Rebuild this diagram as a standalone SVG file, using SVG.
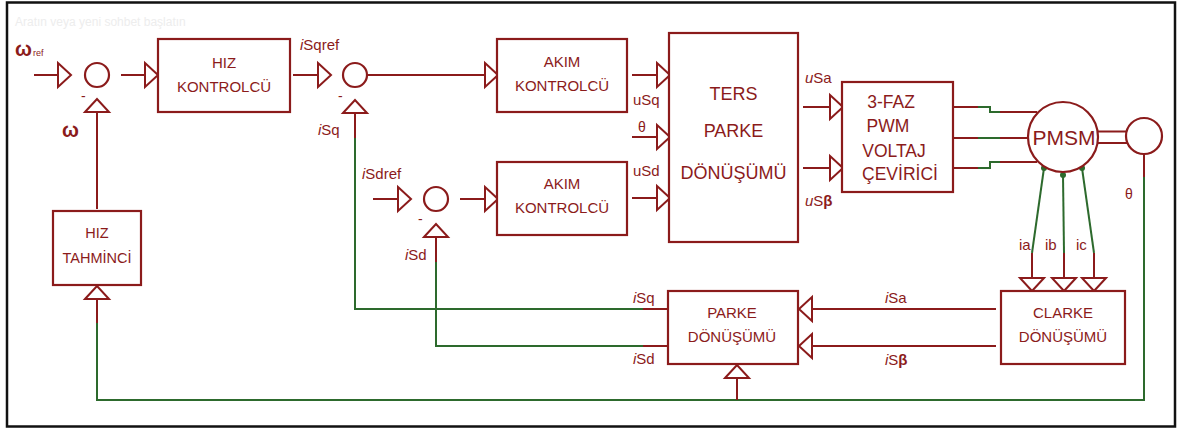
<svg xmlns="http://www.w3.org/2000/svg" xmlns:xlink="http://www.w3.org/1999/xlink" width="1181" height="430" viewBox="0 0 1181 430">
<defs>
<style>
.r{stroke:#8b1b1b;stroke-width:2;fill:none}
.g{stroke:#2d6a2d;stroke-width:2;fill:none}
.box{fill:#fff;stroke:#8b1b1b;stroke-width:2.2}
.tri{fill:#fff;stroke:#8b1b1b;stroke-width:2;stroke-linejoin:miter}
text{font-family:"Liberation Sans",Arial,sans-serif;fill:#8b1b1b}
.b15{font-size:15px;text-anchor:middle}
.lb{font-size:15px}
.i{font-style:italic}
</style>
<path id="tr" d="M-13,-12 L0,0 L-13,12 Z"/>
</defs>
<rect x="0" y="0" width="1181" height="430" fill="#fff"/>
<rect x="7" y="2.5" width="1168" height="424" fill="none" stroke="#111" stroke-width="2.5"/>
<text x="15" y="26" style="font-size:12px;fill:#ededed">Aratın veya yeni sohbet başlatın</text>

<g id="connectors">
  <!-- omega ref input -->
  <line class="r" x1="34" y1="75" x2="58" y2="75"/>
  <use xlink:href="#tr" class="tri" transform="translate(71,75)"/>
  <!-- sum1 -> HIZ -->
  <line class="r" x1="121" y1="75" x2="145" y2="75"/>
  <use xlink:href="#tr" class="tri" transform="translate(158,75)"/>
  <!-- HIZ -> sum2 -->
  <line class="r" x1="293" y1="75" x2="318" y2="75"/>
  <use xlink:href="#tr" class="tri" transform="translate(331,75)"/>
  <!-- sum2 -> AKIM1 -->
  <line class="r" x1="367" y1="75" x2="485" y2="75"/>
  <use xlink:href="#tr" class="tri" transform="translate(498,75)"/>
  <!-- AKIM1 -> TERS -->
  <line class="r" x1="632" y1="75" x2="657" y2="75"/>
  <use xlink:href="#tr" class="tri" transform="translate(670,75)"/>
  <!-- theta -> TERS -->
  <line class="r" x1="632" y1="137" x2="657" y2="137"/>
  <use xlink:href="#tr" class="tri" transform="translate(670,137)"/>
  <!-- AKIM2 -> TERS -->
  <line class="r" x1="632" y1="198" x2="657" y2="198"/>
  <use xlink:href="#tr" class="tri" transform="translate(670,198)"/>
  <!-- iSdref -> sum3 -->
  <line class="r" x1="373" y1="199" x2="398" y2="199"/>
  <use xlink:href="#tr" class="tri" transform="translate(411,199)"/>
  <!-- sum3 -> AKIM2 -->
  <line class="r" x1="460" y1="199" x2="485" y2="199"/>
  <use xlink:href="#tr" class="tri" transform="translate(498,199)"/>
  <!-- TERS -> 3-FAZ -->
  <line class="r" x1="803" y1="107" x2="830" y2="107"/>
  <use xlink:href="#tr" class="tri" transform="translate(843,107)"/>
  <line class="r" x1="803" y1="168" x2="830" y2="168"/>
  <use xlink:href="#tr" class="tri" transform="translate(843,168)"/>
  <!-- 3-FAZ -> PMSM -->
  <path class="r" d="M953,107 H978"/>
  <path class="g" d="M978,107 H990 V112 H1000"/>
  <path class="r" d="M1000,112 H1037"/>
  <path class="r" d="M953,138 H978"/>
  <path class="g" d="M978,138 H1000"/>
  <path class="r" d="M1000,138 H1028"/>
  <path class="r" d="M953,168 H978"/>
  <path class="g" d="M978,168 H990 V162 H1000"/>
  <path class="r" d="M1000,162 H1037"/>
  <!-- PMSM -> encoder -->
  <line class="r" x1="1098" y1="131.5" x2="1127" y2="131.5"/>
  <line class="r" x1="1098" y1="143" x2="1127" y2="143"/>
  <!-- encoder theta feedback loop -->
  <path class="r" d="M1144,154 V177"/>
  <path class="g" d="M1144,177 V400 H97 V323"/>
  <path class="r" d="M97,323 V299"/>
  <use xlink:href="#tr" class="tri" transform="translate(97,286) rotate(-90)"/>
  <!-- branch to PARKE -->
  <path class="r" d="M737,400 V378"/>
  <use xlink:href="#tr" class="tri" transform="translate(737,365) rotate(-90)"/>
  <!-- HIZ TAHMINCI -> sum1 -->
  <path class="r" d="M97,209 V112"/>
  <use xlink:href="#tr" class="tri" transform="translate(97,99) rotate(-90)"/>
  <!-- motor currents -> CLARKE -->
  <path class="g" d="M1044,168 L1032,253"/>
  <path class="r" d="M1032,253 V278"/>
  <use xlink:href="#tr" class="tri" transform="translate(1032,291) rotate(90)"/>
  <path class="g" d="M1063,175 L1064,253"/>
  <path class="r" d="M1064,253 V278"/>
  <use xlink:href="#tr" class="tri" transform="translate(1064,291) rotate(90)"/>
  <path class="g" d="M1082,168 L1094,253"/>
  <path class="r" d="M1094,253 V278"/>
  <use xlink:href="#tr" class="tri" transform="translate(1094,291) rotate(90)"/>
  <circle cx="1044" cy="168" r="3" fill="#2d6a2d"/>
  <circle cx="1063" cy="175" r="3" fill="#2d6a2d"/>
  <circle cx="1082" cy="168" r="3" fill="#2d6a2d"/>
  <!-- CLARKE -> PARKE -->
  <line class="r" x1="996" y1="309" x2="811" y2="309"/>
  <use xlink:href="#tr" class="tri" transform="translate(799,309) rotate(180)"/>
  <line class="r" x1="996" y1="346" x2="811" y2="346"/>
  <use xlink:href="#tr" class="tri" transform="translate(799,346) rotate(180)"/>
  <!-- PARKE -> sum2 (iSq) -->
  <path class="r" d="M668,309 H643"/>
  <path class="g" d="M643,309 H355 V138"/>
  <path class="r" d="M355,138 V112"/>
  <use xlink:href="#tr" class="tri" transform="translate(355,100) rotate(-90)"/>
  <!-- PARKE -> sum3 (iSd) -->
  <path class="r" d="M668,346 H643"/>
  <path class="g" d="M643,346 H436 V262"/>
  <path class="r" d="M436,262 V236"/>
  <use xlink:href="#tr" class="tri" transform="translate(436,224) rotate(-90)"/>
</g>

<g id="sum1"><circle class="box" cx="97" cy="75" r="12"/><text x="81" y="101" style="font-size:14px">-</text></g>
<g id="sum2"><circle class="box" cx="355" cy="75" r="12"/><text x="338" y="101" style="font-size:14px">-</text></g>
<g id="sum3"><circle class="box" cx="436" cy="199" r="12"/><text x="418" y="224" style="font-size:14px">-</text></g>

<g id="hiz-kontrolcu">
  <rect class="box" x="158" y="39" width="132" height="73"/>
  <text class="b15" x="224" y="68">HIZ</text>
  <text class="b15" x="224" y="92">KONTROLCÜ</text>
</g>
<g id="akim-kontrolcu-1">
  <rect class="box" x="497" y="39" width="130" height="73"/>
  <text class="b15" x="562" y="67">AKIM</text>
  <text class="b15" x="562" y="91">KONTROLCÜ</text>
</g>
<g id="akim-kontrolcu-2">
  <rect class="box" x="497" y="162" width="130" height="73"/>
  <text class="b15" x="562" y="189">AKIM</text>
  <text class="b15" x="562" y="213">KONTROLCÜ</text>
</g>
<g id="ters-parke">
  <rect class="box" x="669" y="33" width="129" height="209"/>
  <text x="733.5" y="100" style="font-size:18px;text-anchor:middle">TERS</text>
  <text x="733.5" y="137" style="font-size:18px;text-anchor:middle">PARKE</text>
  <text x="733.5" y="179" style="font-size:18px;text-anchor:middle">DÖNÜŞÜMÜ</text>
</g>
<g id="pwm">
  <rect class="box" x="842" y="82" width="111" height="110"/>
  <text x="891" y="108" style="font-size:17.5px;text-anchor:middle">3-FAZ</text>
  <text x="888" y="132" style="font-size:17.5px;text-anchor:middle">PWM</text>
  <text x="894" y="157" style="font-size:17.5px;text-anchor:middle">VOLTAJ</text>
  <text x="900" y="180" style="font-size:17.5px;text-anchor:middle">ÇEVİRİCİ</text>
</g>
<g id="pmsm">
  <circle class="box" cx="1063" cy="137" r="35"/>
  <text x="1064" y="145" style="font-size:21px;text-anchor:middle">PMSM</text>
</g>
<g id="encoder">
  <circle class="box" cx="1144" cy="136" r="18"/>
</g>
<g id="clarke">
  <rect class="box" x="1001" y="291" width="124" height="73"/>
  <text class="b15" x="1063" y="318">CLARKE</text>
  <text class="b15" x="1063" y="342">DÖNÜŞÜMÜ</text>
</g>
<g id="parke">
  <rect class="box" x="668" y="291" width="130" height="73"/>
  <text class="b15" x="732" y="318">PARKE</text>
  <text class="b15" x="732" y="342">DÖNÜŞÜMÜ</text>
</g>
<g id="hiz-tahminci">
  <rect class="box" x="53" y="211" width="88" height="74"/>
  <text x="97" y="238" style="font-size:14.5px;text-anchor:middle">HIZ</text>
  <text x="97" y="263" style="font-size:14.5px;text-anchor:middle">TAHMİNCİ</text>
</g>

<g id="labels">
  <text x="15" y="56" style="font-size:20px;font-weight:bold">ω</text>
  <text x="33" y="56" style="font-size:9px">ref</text>
  <text x="62" y="137" style="font-size:20px;font-weight:bold">ω</text>
  <text class="lb" x="300" y="50"><tspan class="i">i</tspan>Sqref</text>
  <text class="lb" x="318" y="135"><tspan class="i">i</tspan>Sq</text>
  <text class="lb" x="362" y="179"><tspan class="i">i</tspan>Sdref</text>
  <text class="lb" x="405" y="260"><tspan class="i">i</tspan>Sd</text>
  <text class="lb" x="633" y="105">uSq</text>
  <text x="638" y="132" style="font-size:14px">θ</text>
  <text class="lb" x="633" y="176">uSd</text>
  <text class="lb" x="805" y="83"><tspan class="i">u</tspan>Sa</text>
  <text class="lb" x="805" y="206"><tspan class="i">u</tspan>S<tspan font-weight="bold">β</tspan></text>
  <text class="lb" x="633" y="303"><tspan class="i">i</tspan>Sq</text>
  <text class="lb" x="633" y="364"><tspan class="i">i</tspan>Sd</text>
  <text class="lb" x="885" y="303"><tspan class="i">i</tspan>Sa</text>
  <text class="lb" x="885" y="365"><tspan class="i">i</tspan>S<tspan font-weight="bold">β</tspan></text>
  <text class="lb" x="1019" y="250">ia</text>
  <text class="lb" x="1045" y="250">ib</text>
  <text class="lb" x="1076" y="250">ic</text>
  <text x="1125" y="199" style="font-size:14px">θ</text>
</g>
</svg>
